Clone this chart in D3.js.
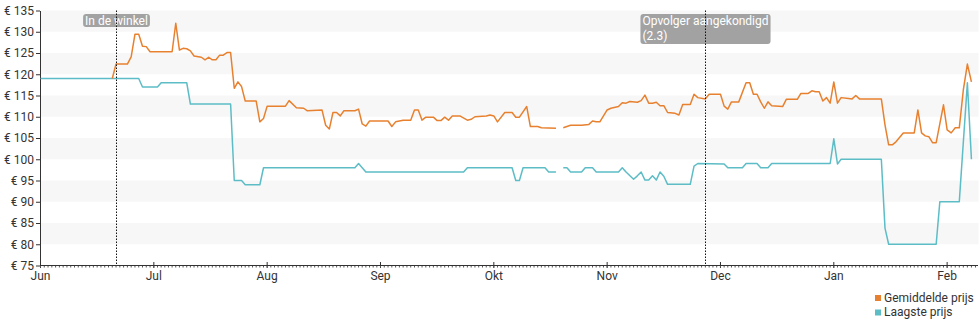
<!DOCTYPE html>
<html>
<head>
<meta charset="utf-8">
<script src="https://cdn.jsdelivr.net/npm/d3@7"></script>
<style>
  html, body { margin: 0; padding: 0; background: #fff; }
  svg { display: block; font-family: Roboto, "Noto Sans", "DejaVu Sans", sans-serif; }
</style>
</head>
<body>
<svg id="chart" width="980" height="325"></svg>
<script>
// ---- Data -------------------------------------------------------------
const monthStarts = ["2022-06-01", "2022-07-01", "2022-08-01", "2022-09-01", "2022-10-01",
                     "2022-11-01", "2022-12-01", "2023-01-01", "2023-02-01"];
const monthLabels = ["Jun", "Jul", "Aug", "Sep", "Okt", "Nov", "Dec", "Jan", "Feb"];
const yTicks = [75, 80, 85, 90, 95, 100, 105, 110, 115, 120, 125, 130, 135];

// Gemiddelde prijs (average price)
const avgDates = [
  "2022-06-20","2022-06-21","2022-06-24","2022-06-25","2022-06-26","2022-06-27","2022-06-28","2022-06-29","2022-06-30",
  "2022-07-06","2022-07-07","2022-07-08","2022-07-09","2022-07-10","2022-07-11","2022-07-12","2022-07-14","2022-07-15",
  "2022-07-16","2022-07-17","2022-07-18","2022-07-19","2022-07-20","2022-07-21","2022-07-22","2022-07-23","2022-07-24",
  "2022-07-25","2022-07-26","2022-07-29","2022-07-30","2022-07-31",
  "2022-08-01","2022-08-06","2022-08-07","2022-08-09","2022-08-11","2022-08-12","2022-08-16","2022-08-17","2022-08-18",
  "2022-08-19","2022-08-20","2022-08-21","2022-08-22","2022-08-25","2022-08-26","2022-08-27","2022-08-28","2022-08-29",
  "2022-09-03","2022-09-04","2022-09-05","2022-09-07","2022-09-09","2022-09-10","2022-09-11","2022-09-12","2022-09-13",
  "2022-09-15","2022-09-16","2022-09-17","2022-09-18","2022-09-19","2022-09-20","2022-09-22","2022-09-24","2022-09-25",
  "2022-09-26","2022-09-29","2022-09-30",
  "2022-10-01","2022-10-02","2022-10-04","2022-10-06","2022-10-07","2022-10-08","2022-10-10","2022-10-11","2022-10-13",
  "2022-10-14","2022-10-18","2022-10-19","2022-10-20","2022-10-22","2022-10-24","2022-10-25","2022-10-27","2022-10-28",
  "2022-10-29","2022-10-30",
  "2022-11-01","2022-11-02","2022-11-04","2022-11-05","2022-11-06","2022-11-07","2022-11-09","2022-11-10","2022-11-11",
  "2022-11-12","2022-11-13","2022-11-14","2022-11-15","2022-11-16","2022-11-17","2022-11-19","2022-11-20","2022-11-21",
  "2022-11-23","2022-11-24","2022-11-25","2022-11-27","2022-11-28",
  "2022-12-01","2022-12-02","2022-12-03","2022-12-04","2022-12-06","2022-12-08","2022-12-09","2022-12-10","2022-12-11",
  "2022-12-12","2022-12-13","2022-12-14","2022-12-15","2022-12-18","2022-12-19","2022-12-22","2022-12-23","2022-12-25",
  "2022-12-26","2022-12-27","2022-12-28","2022-12-29","2022-12-30","2022-12-31",
  "2023-01-01","2023-01-02","2023-01-03","2023-01-05","2023-01-06","2023-01-07","2023-01-08","2023-01-14","2023-01-15",
  "2023-01-16","2023-01-17","2023-01-18","2023-01-20","2023-01-23","2023-01-24","2023-01-25","2023-01-26","2023-01-27",
  "2023-01-28","2023-01-29","2023-01-31",
  "2023-02-01","2023-02-02","2023-02-03","2023-02-04","2023-02-05","2023-02-06","2023-02-07"
];
const avgPrices = [
  119, 122.4, 122.4, 124.1, 129.4, 129.4, 126.6, 126.5, 125.3,
  125.3, 132, 125.7, 126.1, 126, 125.5, 124.3, 124, 123.4,
  124, 123.4, 123.4, 124.5, 124.5, 125.1, 125.1, 116.7, 118.2,
  117.1, 113.7, 113.7, 108.8, 109.6,
  112.5, 112.5, 113.8, 112.1, 112, 111.4, 111.6, 108, 107.1,
  111, 111, 110.2, 111.4, 111.4, 111.8, 108.3, 107.8, 109,
  109, 107.7, 108.8, 109.2, 109.2, 111.6, 111.6, 109.2, 109.9,
  109.9, 109.1, 109.1, 109.9, 109.2, 110.2, 110.2, 109.2, 109.4,
  110, 110.2, 110.4,
  110.2, 108.8, 111, 111, 109.9, 109.9, 112.4, 107.7, 107.7,
  107.4, 107.3, null, 107.4, 108, 108, 108, 108.2, 109,
  108.8, 108.8,
  111.6, 112, 112.4, 113.3, 113.2, 113.6, 113.4, 113.8, 115.1,
  113.2, 113.2, 113.4, 112.6, 112.6, 111, 110.8, 110.4, 112.9,
  112.9, 115.3, 114.5, 114.2, 115.3,
  115.3, 112.5, 111.8, 113.5, 113.5, 118, 118, 115.3, 115.3,
  113.5, 112, 113.5, 112.6, 112.4, 114.1, 114.1, 115.5, 115.5,
  116.1, 115.9, 115.9, 113.7, 114.5, 113.2,
  118.2, 113.2, 114.5, 114.3, 114.2, 115, 114.2, 114.2, 108.1,
  103.4, 103.4, 104.1, 106.2, 106.2, 111.6, 106.2, 105.5, 105.3,
  103.9, 103.9, 112.8,
  106.9, 106.2, 107.4, 107.4, 116.3, 122.4, 118.2
];

// Laagste prijs (lowest price)
const lowDates = [
  "2022-06-01","2022-06-27","2022-06-28","2022-07-02","2022-07-03","2022-07-10","2022-07-11","2022-07-22","2022-07-23",
  "2022-07-25","2022-07-26","2022-07-30","2022-07-31","2022-08-25","2022-08-26","2022-08-28","2022-09-23","2022-09-24",
  "2022-10-06","2022-10-07","2022-10-08","2022-10-09","2022-10-15","2022-10-16","2022-10-18","2022-10-19","2022-10-20",
  "2022-10-21","2022-10-22","2022-10-25","2022-10-26","2022-10-28","2022-10-29",
  "2022-11-04","2022-11-05","2022-11-06","2022-11-08","2022-11-09","2022-11-10","2022-11-11","2022-11-12","2022-11-13",
  "2022-11-14","2022-11-15","2022-11-16","2022-11-17","2022-11-23","2022-11-24","2022-11-25",
  "2022-12-02","2022-12-03","2022-12-07","2022-12-08","2022-12-11","2022-12-12","2022-12-14","2022-12-15","2022-12-31",
  "2023-01-01","2023-01-02","2023-01-03","2023-01-14","2023-01-15","2023-01-16","2023-01-29","2023-01-30",
  "2023-02-04","2023-02-06","2023-02-07"
];
const lowPrices = [
  119, 119, 117, 117, 118, 118, 113, 113, 95,
  95, 94, 94, 98, 98, 99, 97, 97, 98,
  98, 95, 95, 98, 98, 97, 97, null, 98,
  98, 97, 97, 98, 98, 97,
  97, 98, 97, 95.3, 96.1, 97, 95.1, 95.1, 96.1,
  95.1, 97, 96, 94.1, 94.1, 98.4, 99,
  98.9, 98, 98, 99, 99, 98, 98, 99, 99,
  104.8, 98.9, 100, 100, 83.8, 80, 80, 90,
  90, 118, 100
];

// Event markers
const eventDates = ["2022-06-21", "2022-11-27"];
const eventLabels = [["In de winkel"], ["Opvolger aangekondigd", "(2.3)"]];

const seriesNames = ["Gemiddelde prijs", "Laagste prijs"];
const seriesColors = ["#e8812f", "#5dbdc6"];

// ---- Layout -----------------------------------------------------------
const plotLeft = 40.5, plotRight = 978, plotTop = 10.5, plotBottom = 265.5, monthStep = 113.33;
const parse = d3.timeParse("%Y-%m-%d");

const svg = d3.select("#chart");

// Each month gets an equal slot on the time axis
const xStops = monthStarts.concat(["2023-03-01"]).map(parse);
const x = d3.scaleTime()
  .domain(xStops)
  .range(xStops.map((d, i) => plotLeft + i * monthStep));
const y = d3.scaleLinear().domain([75, 135]).range([plotBottom, plotTop]);

// Alternating background bands
const bandStarts = yTicks.filter(v => v < 135 && (135 - v) % 10 === 5);
svg.append("g")
  .selectAll("rect")
  .data(bandStarts)
  .join("rect")
  .attr("x", plotLeft + 0.5)
  .attr("width", plotRight - plotLeft)
  .attr("y", d => y(d + 5))
  .attr("height", d => y(d) - y(d + 5))
  .attr("fill", "#f7f7f7");

// Y axis
const yAxisG = svg.append("g")
  .attr("transform", `translate(${plotLeft - 0.5},0)`)
  .call(d3.axisLeft(y).tickValues(yTicks).tickFormat(d => "€ " + d)
    .tickSize(4).tickSizeOuter(0).tickPadding(2));
yAxisG.select(".domain").attr("stroke", "#333");
yAxisG.selectAll(".tick line").attr("stroke", "#333");
yAxisG.selectAll(".tick text")
  .attr("fill", "#333").style("font-size", "12px")
  .style("font-family", "Roboto, 'Noto Sans', sans-serif");

// X axis: month ticks plus daily minor ticks
const xAxisG = svg.append("g")
  .attr("transform", `translate(-0.5,${plotBottom - 0.5})`)
  .call(d3.axisBottom(x).tickValues(monthStarts.map(parse))
    .tickFormat((d, i) => monthLabels[i]).tickSize(3).tickPadding(3));
xAxisG.select(".domain").remove();
xAxisG.selectAll(".tick line").attr("stroke", "#333").attr("y1", -3);
xAxisG.selectAll(".tick text")
  .attr("fill", "#333").style("font-size", "12px")
  .style("font-family", "Roboto, 'Noto Sans', sans-serif");

const days = d3.timeDay.range(parse("2022-06-01"), parse("2023-02-10")).filter(d => x(d) <= plotRight);
svg.append("g")
  .selectAll("line")
  .data(days)
  .join("line")
  .attr("x1", d => x(d)).attr("x2", d => x(d))
  .attr("y1", plotBottom).attr("y2", plotBottom + 2)
  .attr("stroke", "#555").attr("stroke-width", 1);

svg.append("line")
  .attr("x1", plotLeft - 0.5).attr("x2", plotRight)
  .attr("y1", plotBottom).attr("y2", plotBottom)
  .attr("stroke", "#333");

// Price lines
const priceLine = d3.line()
  .defined(d => d.v != null)
  .x(d => x(d.date))
  .y(d => y(d.v));

const lowSeries = lowDates.map((d, i) => ({ date: parse(d), v: lowPrices[i] }));
const avgSeries = avgDates.map((d, i) => ({ date: parse(d), v: avgPrices[i] }));

svg.append("path")
  .datum(lowSeries)
  .attr("d", priceLine)
  .attr("fill", "none")
  .attr("stroke", seriesColors[1])
  .attr("stroke-width", 1.5)
  .attr("stroke-linejoin", "round");

svg.append("path")
  .datum(avgSeries)
  .attr("d", priceLine)
  .attr("fill", "none")
  .attr("stroke", seriesColors[0])
  .attr("stroke-width", 1.5)
  .attr("stroke-linejoin", "round");

// Event markers: label box with a dotted vertical line
eventDates.forEach((ds, k) => {
  const ex = Math.round(x(parse(ds))) + 0.5;
  const g = svg.append("g");
  const rect = g.append("rect");
  const lines = eventLabels[k];
  const texts = g.selectAll("text")
    .data(lines)
    .join("text")
    .attr("y", (d, i) => 25 + i * 15)
    .attr("fill", "#fff")
    .style("font-size", "12px")
    .text(d => d);
  const w = d3.max(texts.nodes(), n => n.getComputedTextLength()) + 4;
  const bx = ex - w / 2;
  texts.attr("x", bx + 2);
  rect.attr("x", bx).attr("y", 14)
    .attr("width", w)
    .attr("height", 13 + (lines.length - 1) * 17)
    .attr("rx", 3)
    .attr("fill", "#a2a2a2");
  svg.append("line")
    .attr("x1", ex).attr("x2", ex)
    .attr("y1", plotTop).attr("y2", plotBottom)
    .attr("stroke", "#111")
    .attr("stroke-width", 1)
    .attr("stroke-dasharray", "1.5,1.5");
});

// Legend
const legend = svg.append("g").attr("transform", "translate(875,0)");
seriesNames.forEach((name, i) => {
  legend.append("rect")
    .attr("x", 0).attr("y", 295 + i * 14.5)
    .attr("width", 6).attr("height", 6)
    .attr("fill", seriesColors[i]);
  legend.append("text")
    .attr("x", 9).attr("y", 301.5 + i * 14.5)
    .attr("fill", "#333")
    .style("font-size", "12px")
    .text(name);
});
</script>
</body>
</html>
